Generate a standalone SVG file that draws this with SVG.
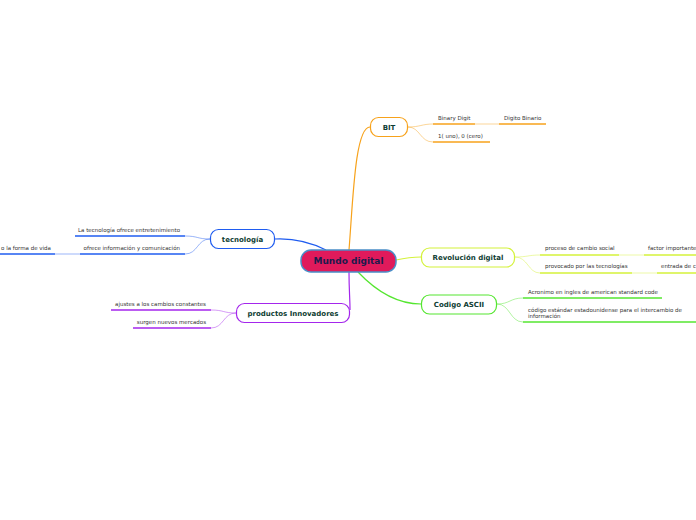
<svg xmlns="http://www.w3.org/2000/svg" width="696" height="520" viewBox="0 0 696 520">
<style>
.lbl{font-family:"DejaVu Sans","Liberation Sans",sans-serif;font-weight:bold;font-size:7px;fill:#0e3d33;text-anchor:middle}
.sub{font-family:"DejaVu Sans","Liberation Sans",sans-serif;font-size:5.5px;fill:#333}
.end{text-anchor:end}
.ul{stroke-width:1.6;fill:none}
.c{fill:none;stroke-width:1.2}
.cl{fill:none;stroke-width:1;opacity:0.45}
.or{stroke:#f7a21b}.ly{stroke:#d4f23a}.gr{stroke:#55e630}.bl{stroke:#1f5cf0}.pu{stroke:#a426ec}
</style>
<rect width="696" height="520" fill="#fff"/>
<g id="connectors">
<path class="c or" d="M349,250 C353,200 355,127 370,127"/>
<path class="c bl" d="M326,250 C310,242 295,238 275,239"/>
<path class="c pu" d="M349,272 C349,290 350,298 350,310"/>
<path class="c ly" d="M396,260 C405,258 410,257 421,257"/>
<path class="c gr" d="M358,272 C375,290 395,304 421,304"/>
<path class="cl or" d="M408,127 C420,127 422,124 433,124"/>
<path class="cl or" d="M408,127 C420,127 420,142 433,142"/>
<path class="cl or" d="M475,124 L499,124"/>
<path class="cl ly" d="M515,257 C528,257 528,255 540,255"/>
<path class="cl ly" d="M515,257 C528,257 528,273 540,273"/>
<path class="cl ly" d="M619,255 L644,255"/>
<path class="cl ly" d="M632,273 L657,273"/>
<path class="cl gr" d="M497,304 C510,304 510,298 523,298"/>
<path class="cl gr" d="M497,304 C510,304 510,322 523,322"/>
<path class="cl bl" d="M210,239 C197,239 198,236 185,236"/>
<path class="cl bl" d="M210,239 C197,239 198,254 185,254"/>
<path class="cl bl" d="M80,254 L55,254"/>
<path class="cl pu" d="M236,313 C223,313 224,310 211,310"/>
<path class="cl pu" d="M236,313 C223,313 224,328 211,328"/>
</g>
<g id="central">
<rect x="301" y="250" width="95" height="22" rx="10" fill="#e01a5b" stroke="#4a8ec8" stroke-width="1.5"/>
<text x="348.5" y="264" font-family="DejaVu Sans, sans-serif" font-weight="bold" font-size="9" fill="#1b1b4d" text-anchor="middle">Mundo digital</text>
</g>
<g id="bit">
<rect x="370.5" y="117.5" width="37" height="19" rx="8" fill="#fff" stroke="#f7a21b" stroke-width="1.2"/>
<text class="lbl" x="389" y="129.5">BIT</text>
<path class="ul or" d="M433,124 H475"/>
<text class="sub" x="438" y="120">Binary Digit</text>
<path class="ul or" d="M499,124 H546"/>
<text class="sub" x="504" y="120">Digito Binario</text>
<path class="ul or" d="M433,142 H490"/>
<text class="sub" x="438" y="138">1( uno), 0 (cero)</text>
</g>
<g id="revolucion">
<rect x="421.5" y="248" width="93" height="19" rx="8" fill="#fff" stroke="#d4f23a" stroke-width="1.2"/>
<text class="lbl" x="468" y="260">Revolución digital</text>
<path class="ul ly" d="M540,255 H619"/>
<text class="sub" x="545" y="249.5">proceso de cambio social</text>
<path class="ul ly" d="M644,255 H696"/>
<text class="sub" x="648" y="249.5">factor importante</text>
<path class="ul ly" d="M540,273 H632"/>
<text class="sub" x="545" y="267.5">provocado por las tecnologías</text>
<path class="ul ly" d="M657,273 H696"/>
<text class="sub" x="661" y="267.5">entrada de c</text>
</g>
<g id="ascii">
<rect x="421.5" y="295" width="75" height="19" rx="8" fill="#fff" stroke="#55e630" stroke-width="1.2"/>
<text class="lbl" x="459" y="307">Codigo ASCII</text>
<path class="ul gr" d="M523,298 H662"/>
<text class="sub" x="528" y="293.5">Acronimo en ingles de american standard code</text>
<path class="ul gr" d="M523,322 H696"/>
<text class="sub" x="528" y="311.5">código estándar estadounidense para el intercambio de</text>
<text class="sub" x="528" y="317.5">información</text>
</g>
<g id="tecnologia">
<rect x="210.5" y="229.5" width="64" height="19" rx="8" fill="#fff" stroke="#1f5cf0" stroke-width="1.2"/>
<text class="lbl" x="242.5" y="241.5">tecnología</text>
<path class="ul bl" d="M75,236 H185"/>
<text class="sub end" x="180" y="232">La tecnología ofrece entretenimiento</text>
<path class="ul bl" d="M80,254 H185"/>
<text class="sub end" x="180" y="249.5">ofrece información y comunicación</text>
<path class="ul bl" d="M0,254 H55"/>
<text class="sub end" x="51" y="249.5">o la forma de vida</text>
</g>
<g id="productos">
<rect x="236.5" y="303.5" width="113" height="19" rx="8" fill="#fff" stroke="#a426ec" stroke-width="1.2"/>
<text class="lbl" x="293" y="315.5">productos Innovadores</text>
<path class="ul pu" d="M111,310 H211"/>
<text class="sub end" x="206" y="305.5">ajustes a los cambios constantes</text>
<path class="ul pu" d="M133,328 H211"/>
<text class="sub end" x="206" y="323.5">surgen nuevos mercados</text>
</g>
</svg>
